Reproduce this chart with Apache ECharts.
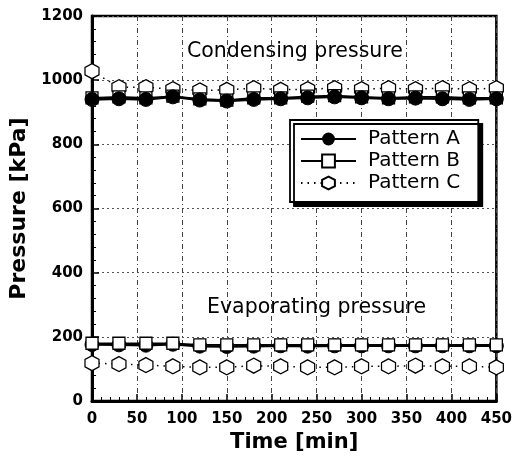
<!DOCTYPE html>
<html>
<head>
<meta charset="utf-8">
<script src="https://cdn.jsdelivr.net/npm/echarts@6/dist/echarts.min.js"></script>
<style>
  html, body { margin: 0; padding: 0; background: #fff; }
  #main { width: 515px; height: 461px; }
</style>
</head>
<body>
<div id="main"></div>
<script>
// 时间 [min]
var times = [0, 30, 60, 90, 120, 150, 180, 210, 240, 270, 300, 330, 360, 390, 420, 450];

// condensing pressure [kPa]
var condA = [940, 942, 940, 948, 938, 935, 940, 942, 945, 948, 945, 942, 944, 942, 940, 942];
var condB = [945, 948, 945, 950, 942, 938, 945, 945, 950, 952, 948, 945, 948, 948, 945, 945];
var condC = [1028, 978, 978, 972, 968, 970, 975, 970, 972, 975, 972, 975, 972, 975, 972, 975];

// evaporating pressure [kPa]
var evapA = [176, 175, 174, 177, 171, 170, 171, 172, 171, 172, 172, 172, 172, 172, 172, 172];
var evapB = [180, 180, 180, 180, 175, 175, 175, 175, 175, 175, 175, 175, 175, 175, 175, 175];
var evapC = [118, 115, 112, 108, 105, 105, 110, 108, 105, 105, 108, 108, 110, 108, 108, 105];

var xTicks = [0, 50, 100, 150, 200, 250, 300, 350, 400, 450];
var yTicks = [0, 200, 400, 600, 800, 1000, 1200];

var hexagon = 'path://M0,-1 L0.866,-0.5 L0.866,0.5 L0,1 L-0.866,0.5 L-0.866,-0.5 Z';
var font = '"DejaVu Sans", Verdana, sans-serif';

function pairs(ys) {
  return times.map(function (t, i) { return [t, ys[i]]; });
}

function patternA(ys, z) {
  return {
    name: 'Pattern A', type: 'line', data: pairs(ys), z: z,
    symbol: 'circle', symbolSize: 14,
    itemStyle: { color: '#000', borderColor: '#000' },
    lineStyle: { color: '#000', width: 2.5 }
  };
}
function patternB(ys, z) {
  return {
    name: 'Pattern B', type: 'line', data: pairs(ys), z: z,
    symbol: 'rect', symbolSize: 12,
    itemStyle: { color: '#fff', borderColor: '#000', borderWidth: 1.3 },
    lineStyle: { color: '#000', width: 1.6 }
  };
}
function patternC(ys, z) {
  return {
    name: 'Pattern C', type: 'line', data: pairs(ys), z: z,
    symbol: hexagon, symbolSize: [14, 15],
    itemStyle: { color: '#fff', borderColor: '#000', borderWidth: 1.3 },
    lineStyle: { color: '#000', width: 1.5, type: [1.5, 5] }
  };
}

var chart = echarts.init(document.getElementById('main'), null, { renderer: 'canvas' });

var option = {
  backgroundColor: '#fff',
  animation: false,
  textStyle: { fontFamily: font, color: '#000' },
  grid: {
    left: 92, right: 15, top: 16, bottom: 60,
    show: true, borderColor: '#000', borderWidth: 2.5
  },
  legend: {
    orient: 'vertical',
    left: 290, top: 120,
    padding: [9, 18, 9, 10],
    itemWidth: 55, itemHeight: 16, itemGap: 2,
    backgroundColor: '#fff',
    borderColor: '#000', borderWidth: 1.8,
    shadowColor: '#000', shadowBlur: 0, shadowOffsetX: 4, shadowOffsetY: 4,
    textStyle: { fontFamily: font, fontSize: 20, lineHeight: 16, color: '#000', padding: [0, 0, 0, 7] },
    data: ['Pattern A', 'Pattern B', 'Pattern C']
  },
  xAxis: {
    type: 'value', min: 0, max: 450, interval: 50,
    name: 'Time [min]', nameLocation: 'middle', nameGap: 31,
    nameTextStyle: { fontFamily: font, fontSize: 21, fontWeight: 'bold', color: '#000' },
    axisLine: { onZero: false, lineStyle: { color: '#000', width: 3 } },
    axisTick: { inside: true, length: 7, lineStyle: { color: '#000', width: 1.5 } },
    minorTick: { show: true, splitNumber: 5, length: 4, lineStyle: { color: '#000', width: 1 } },
    axisLabel: {
      fontFamily: font, fontSize: 15, fontWeight: 'bold', color: '#000', margin: 11,
      formatter: function (v) { return xTicks.indexOf(v) >= 0 ? String(v) : ''; }
    },
    splitLine: { show: true, lineStyle: { color: '#444', width: 1, type: [5, 3, 1, 3] } }
  },
  yAxis: {
    type: 'value', min: 0, max: 1200, interval: 200,
    name: 'Pressure [kPa]', nameLocation: 'middle', nameGap: 60,
    nameTextStyle: { fontFamily: font, fontSize: 22, fontWeight: 'bold', color: '#000' },
    axisLine: { onZero: false, lineStyle: { color: '#000', width: 3 } },
    axisTick: { inside: true, length: 7, lineStyle: { color: '#000', width: 1.5 } },
    minorTick: { show: true, splitNumber: 5, length: 4, lineStyle: { color: '#000', width: 1 } },
    axisLabel: {
      fontFamily: font, fontSize: 15, fontWeight: 'bold', color: '#000', margin: 9,
      formatter: function (v) { return yTicks.indexOf(v) >= 0 ? String(v) : ''; }
    },
    splitLine: { show: true, lineStyle: { color: '#555', width: 1, type: [2, 3] } }
  },
  graphic: [
    {
      type: 'text', left: 187, top: 41, z: 100,
      style: { text: 'Condensing pressure', fontFamily: font, fontSize: 20.5, fill: '#000' }
    },
    {
      type: 'text', left: 207, top: 297, z: 100,
      style: { text: 'Evaporating pressure', fontFamily: font, fontSize: 20.5, fill: '#000' }
    }
  ],
  series: [
    patternC(condC, 2),
    patternB(condB, 3),
    patternA(condA, 4),
    patternC(evapC, 2),
    patternA(evapA, 3),
    patternB(evapB, 4)
  ]
};

chart.setOption(option);
</script>
</body>
</html>
